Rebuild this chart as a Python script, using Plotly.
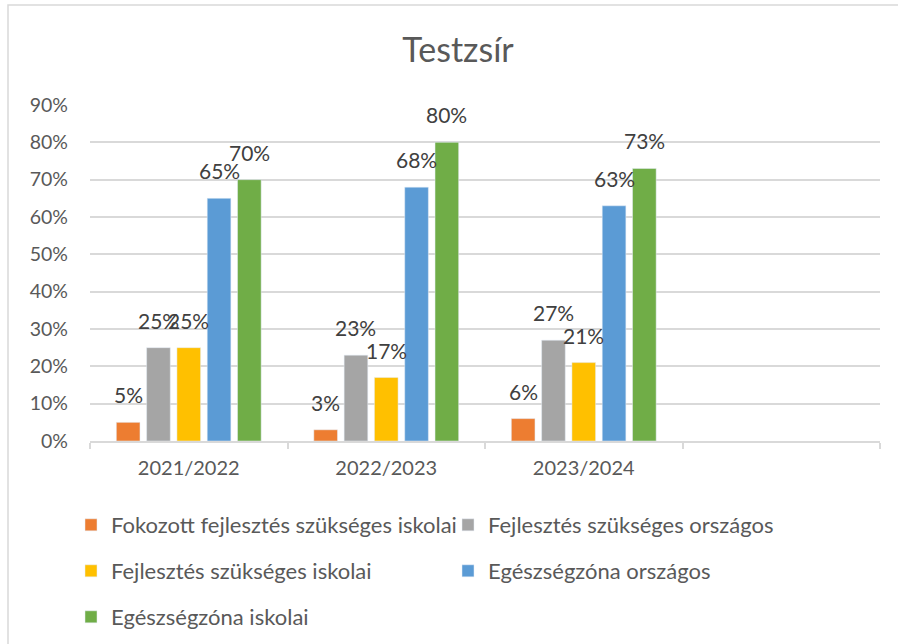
import plotly.graph_objects as go

categories = ["2021/2022", "2022/2023", "2023/2024"]
empty_slot = " "
series_names = [
    "Fokozott fejlesztés szükséges iskolai",
    "Fejlesztés szükséges országos",
    "Fejlesztés szükséges iskolai",
    "Egészségzóna országos",
    "Egészségzóna iskolai",
]
fokozott_iskolai = [5, 3, 6]
fejlesztes_orszagos = [25, 23, 27]
fejlesztes_iskolai = [25, 17, 21]
egeszseg_orszagos = [65, 68, 63]
egeszseg_iskolai = [70, 80, 73]
series_values = [fokozott_iskolai, fejlesztes_orszagos, fejlesztes_iskolai,
                 egeszseg_orszagos, egeszseg_iskolai]
colors = ["#ED7D31", "#A5A5A5", "#FFC000", "#5B9BD5", "#70AD47"]

W, H = 898, 644
ML, MR, MT, MB = 90, 18, 105, 203
BARGAP = 0.233
FONT = "Lato"

# legend grid: (left px, row centre px) for each series
legend_cols = [71, 448]
legend_rows = [525, 571, 617]

x_all = categories + [empty_slot]
plot_w = W - ML - MR
plot_h = H - MT - MB

fig = go.Figure()
legend_layouts = {}
legend_font = dict(family=FONT, size=22, color="#595959")
for i, (name, vals) in enumerate(zip(series_names, series_values)):
    lid = "legend" if i == 0 else f"legend{i + 1}"
    fig.add_trace(go.Bar(
        x=x_all, y=list(vals) + [None], name=name, marker_color=colors[i],
        legend=lid, showlegend=True, hoverinfo="skip",
    ))
    lx = legend_cols[i % 2]
    ly = legend_rows[i // 2]
    legend_layouts[lid] = dict(
        x=(lx - ML) / plot_w, y=(H - MB - ly) / plot_h,
        xanchor="left", yanchor="middle", orientation="v",
        font=legend_font, bgcolor="rgba(0,0,0,0)",
    )

slot = plot_w / len(x_all) * (1 - BARGAP) / len(series_names)
annotations = []
for i, vals in enumerate(series_values):
    for c, v in zip(categories, vals):
        annotations.append(dict(
            x=c, y=v, xref="x", yref="y", text=f"{v}%", showarrow=False,
            xanchor="center", yanchor="bottom",
            xshift=(i - 2) * slot, yshift=13,
            font=dict(family=FONT, size=21, color="#404040"),
        ))

fig.update_layout(
    width=W, height=H, showlegend=True,
    margin=dict(l=ML, r=MR, t=MT, b=MB, autoexpand=False),
    paper_bgcolor="white", plot_bgcolor="white",
    barmode="group", bargap=BARGAP, bargroupgap=0.22,
    title=dict(text="Testzsír", x=458 / W, xref="container", xanchor="center",
               y=1 - 50 / H, yref="container", yanchor="middle",
               font=dict(family=FONT, size=34, color="#595959")),
    font=dict(family=FONT, color="#595959"),
    xaxis=dict(
        categoryorder="array", categoryarray=x_all,
        showline=True, linecolor="#D9D9D9", linewidth=1.5,
        ticks="outside", tickson="boundaries", ticklen=6, tickcolor="#D9D9D9",
        tickwidth=1.5, ticklabelstandoff=8,
        tickfont=dict(family=FONT, size=20, color="#595959"),
        showgrid=False, fixedrange=True, automargin=False,
    ),
    yaxis=dict(
        range=[0, 90], dtick=10, ticksuffix="%",
        showgrid=True, gridcolor="#D9D9D9", gridwidth=1.5,
        zeroline=False, showline=False, ticks="",
        ticklabelstandoff=21, automargin=False,
        tickfont=dict(family=FONT, size=19.5, color="#595959"),
    ),
    annotations=annotations,
    shapes=[dict(type="rect", xref="paper", yref="paper",
                 x0=(8 - ML) / plot_w, x1=(W + 60 - ML) / plot_w,
                 y0=(H - MB - (H + 60)) / plot_h, y1=(H - MB - 5) / plot_h,
                 line=dict(color="#D9D9D9", width=1.5), layer="below")],
    **legend_layouts,
)

fig.write_html("out.html", config={"displayModeBar": False},
               post_script="document.body.style.margin='0';")
